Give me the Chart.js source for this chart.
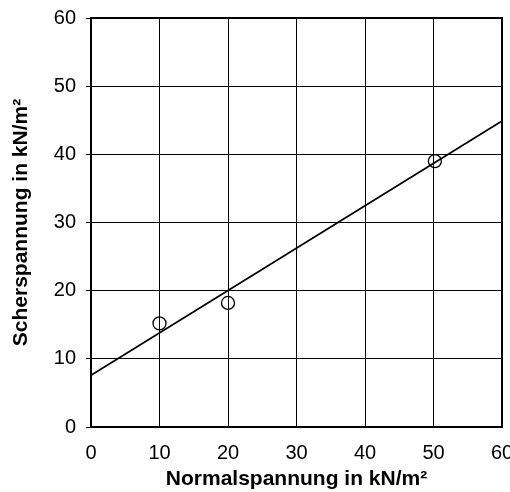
<!DOCTYPE html>
<html>
<head>
<meta charset="utf-8">
<script src="https://cdn.jsdelivr.net/npm/chart.js@4/dist/chart.umd.min.js"></script>
<style>
  html, body { margin: 0; padding: 0; background: #fff; }
  canvas { display: block; }
</style>
</head>
<body>
<canvas id="chart" width="510" height="492"></canvas>
<script>
// Messwerte (Scherversuch)
const normalspannung = [10, 20, 50.2];
const scherspannung = [15.2, 18.2, 39.0];

// Ausgleichsgerade
const geradeX = [0, 60];
const geradeY = [7.6, 44.9];

const axisMin = 0;
const axisMax = 60;
const axisStep = 10;

const font = "'Liberation Sans', Arial, sans-serif";

// thick frame around the plot area
const framePlugin = {
  id: "frame",
  afterDraw(chart) {
    const { ctx, chartArea: a } = chart;
    ctx.save();
    ctx.strokeStyle = "#000";
    ctx.lineWidth = 2;
    ctx.strokeRect(a.left, a.top, a.right - a.left, a.bottom - a.top);
    ctx.restore();
  }
};

new Chart(document.getElementById("chart").getContext("2d"), {
  type: "scatter",
  data: {
    datasets: [
      {
        label: "Gerade",
        type: "line",
        data: geradeX.map((x, i) => ({ x: x, y: geradeY[i] })),
        borderColor: "#000",
        borderWidth: 1.8,
        pointRadius: 0,
        fill: false
      },
      {
        label: "Messwerte",
        data: normalspannung.map((x, i) => ({ x: x, y: scherspannung[i] })),
        pointStyle: "circle",
        pointRadius: 6.5,
        borderColor: "#000",
        borderWidth: 1.3,
        backgroundColor: "rgba(0,0,0,0)"
      }
    ]
  },
  options: {
    responsive: false,
    animation: false,
    layout: { padding: { top: 18, right: 8, left: 0, bottom: 0 } },
    plugins: { legend: { display: false }, tooltip: { enabled: false } },
    scales: {
      x: {
        type: "linear",
        min: axisMin,
        max: axisMax,
        afterFit(scale) {
          scale.height = 65;
          scale.paddingLeft = 0;
          scale.paddingRight = 0;
        },
        ticks: { stepSize: axisStep, color: "#000", padding: 14, maxRotation: 0, font: { family: font, size: 20 } },
        grid: { color: "#000", lineWidth: 1, drawTicks: false },
        border: { color: "#000", width: 2 },
        title: {
          display: true,
          text: "Normalspannung in kN/m²",
          color: "#000",
          padding: { top: 0, bottom: 0 },
          font: { family: font, size: 21, weight: "bold" }
        }
      },
      y: {
        type: "linear",
        min: axisMin,
        max: axisMax,
        afterFit(scale) {
          scale.width = 91;
          scale.paddingTop = 0;
          scale.paddingBottom = 0;
        },
        ticks: { stepSize: axisStep, color: "#000", padding: 10, font: { family: font, size: 20 } },
        grid: { color: "#000", lineWidth: 1, tickLength: 5 },
        border: { color: "#000", width: 2 },
        title: {
          display: true,
          text: "Scherspannung in kN/m²",
          color: "#000",
          padding: { top: 9, bottom: 0 },
          font: { family: font, size: 21, weight: "bold" }
        }
      }
    }
  },
  plugins: [framePlugin]
});
</script>
</body>
</html>
